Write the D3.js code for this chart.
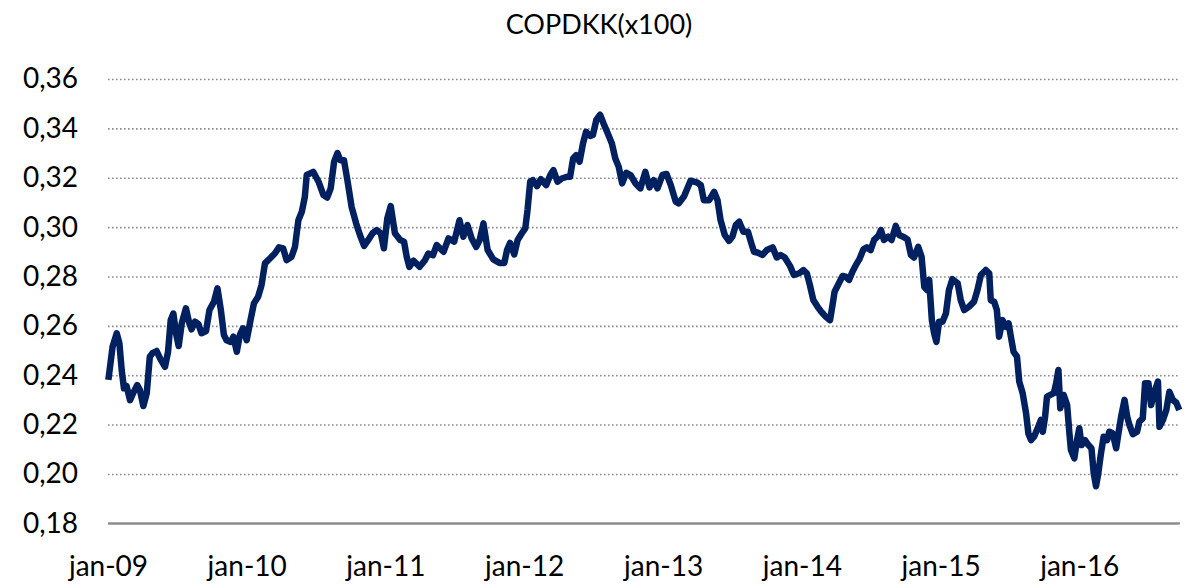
<!DOCTYPE html>
<html>
<head>
<meta charset="utf-8">
<script src="https://cdn.jsdelivr.net/npm/d3@7"></script>
<style>
  body { margin: 0; background: #fff; }
  svg { display: block; font-family: Lato, "Open Sans", sans-serif; }
</style>
</head>
<body>
<svg></svg>
<script>
const width = 1184;
const height = 586;

const title = 'COPDKK(x100)';
const yTicks = [0.18, 0.20, 0.22, 0.24, 0.26, 0.28, 0.30, 0.32, 0.34, 0.36];
const xStart = '2009-01-01';
const xEnd = '2016-09-22';

// weekly-ish readings, kept per year
const dates2009 = ['2009-01-02','2009-01-13','2009-01-24','2009-01-31','2009-02-06','2009-02-12','2009-02-19','2009-02-28','2009-03-08','2009-03-19','2009-03-26','2009-04-04','2009-04-13','2009-04-21','2009-04-28','2009-05-09','2009-05-18','2009-05-31','2009-06-08','2009-06-15','2009-06-22','2009-06-29','2009-07-06','2009-07-14','2009-07-25','2009-08-03','2009-08-09','2009-08-18','2009-08-27','2009-09-04','2009-09-16','2009-09-25','2009-10-07','2009-10-16','2009-10-25','2009-11-02','2009-11-09','2009-11-20','2009-11-27','2009-12-06','2009-12-14','2009-12-22'];
const values2009 = [.2381,.2515,.2570,.2529,.2421,.2347,.2355,.2299,.2327,.2360,.2340,.2275,.2327,.2475,.2489,.2498,.2468,.2434,.2495,.2623,.2650,.2570,.2518,.2610,.2671,.2610,.2586,.2617,.2607,.2570,.2579,.2664,.2698,.2752,.2664,.2563,.2542,.2535,.2556,.2495,.2563,.2590];

const dates2010 = ['2010-01-01','2010-01-11','2010-01-20','2010-01-31','2010-02-09','2010-02-18','2010-03-03','2010-03-16','2010-03-27','2010-04-07','2010-04-16','2010-04-29','2010-05-08','2010-05-17','2010-05-26','2010-06-03','2010-06-08','2010-06-17','2010-06-25','2010-07-09','2010-07-22','2010-08-01','2010-08-10','2010-08-19','2010-08-28','2010-09-04','2010-09-14','2010-09-23','2010-10-04','2010-10-16','2010-10-26','2010-11-06','2010-11-17','2010-11-29','2010-12-09','2010-12-20','2010-12-28'];
const values2010 = [.2542,.2623,.2691,.2718,.2765,.2853,.2873,.2893,.2918,.2914,.2866,.2880,.2920,.3028,.3062,.3123,.3211,.3218,.3224,.3184,.3130,.3120,.3157,.3265,.3300,.3271,.3271,.3190,.3082,.3015,.2968,.2924,.2948,.2977,.2988,.2975,.2914];

const dates2011 = ['2011-01-06','2011-01-15','2011-01-26','2011-02-09','2011-02-19','2011-02-26','2011-03-05','2011-03-16','2011-04-01','2011-04-15','2011-04-24','2011-05-06','2011-05-16','2011-06-03','2011-06-16','2011-07-01','2011-07-15','2011-07-25','2011-08-05','2011-08-16','2011-08-28','2011-09-06','2011-09-16','2011-09-27','2011-10-12','2011-10-28','2011-11-10','2011-11-17','2011-11-25','2011-12-06','2011-12-15','2011-12-26'];
const values2011 = [.3035,.3085,.2975,.2948,.2941,.2880,.2839,.2864,.2839,.2866,.2893,.2886,.2927,.2900,.2954,.2941,.3028,.2961,.3008,.2954,.2920,.2948,.3015,.2907,.2869,.2855,.2855,.2907,.2936,.2889,.2948,.2975];

const dates2012 = ['2012-01-04','2012-01-10','2012-01-17','2012-01-24','2012-02-04','2012-02-14','2012-02-28','2012-03-10','2012-03-18','2012-03-29','2012-04-09','2012-04-23','2012-05-01','2012-05-09','2012-05-17','2012-05-26','2012-06-04','2012-06-12','2012-06-23','2012-06-30','2012-07-09','2012-07-19','2012-07-28','2012-08-08','2012-08-19','2012-08-28','2012-09-06','2012-09-15','2012-09-26','2012-10-07','2012-10-20','2012-11-02','2012-11-15','2012-11-26','2012-12-07','2012-12-17','2012-12-30'];
const values2012 = [.2995,.3069,.3184,.3190,.3166,.3194,.3170,.3211,.3231,.3184,.3197,.3204,.3204,.3278,.3291,.3265,.3339,.3386,.3369,.3373,.3434,.3455,.3420,.3380,.3339,.3278,.3244,.3177,.3220,.3211,.3177,.3157,.3224,.3161,.3190,.3157,.3211];

const dates2013 = ['2013-01-10','2013-01-21','2013-02-03','2013-02-11','2013-02-25','2013-03-14','2013-04-01','2013-04-10','2013-04-18','2013-05-02','2013-05-15','2013-05-24','2013-06-01','2013-06-12','2013-06-23','2013-07-02','2013-07-11','2013-07-20','2013-07-31','2013-08-12','2013-08-21','2013-08-28','2013-09-08','2013-09-19','2013-10-01','2013-10-16','2013-10-27','2013-11-06','2013-11-17','2013-12-01','2013-12-11','2013-12-25'];
const values2013 = [.3215,.3170,.3103,.3096,.3125,.3188,.3180,.3170,.3109,.3109,.3143,.3109,.3028,.2968,.2944,.2961,.3008,.3022,.2981,.2981,.2934,.2900,.2896,.2887,.2907,.2918,.2877,.2887,.2877,.2842,.2806,.2813];

const dates2014 = ['2014-01-05','2014-01-14','2014-01-22','2014-01-31','2014-02-11','2014-02-21','2014-03-05','2014-03-16','2014-03-22','2014-03-28','2014-04-06','2014-04-18','2014-04-26','2014-05-05','2014-05-14','2014-05-23','2014-06-01','2014-06-12','2014-06-21','2014-07-01','2014-07-10','2014-07-21','2014-07-28','2014-08-05','2014-08-16','2014-08-25','2014-09-05','2014-09-14','2014-09-27','2014-10-06','2014-10-15','2014-10-23','2014-11-03','2014-11-12','2014-11-19','2014-11-26','2014-12-02','2014-12-09','2014-12-15','2014-12-21','2014-12-28'];
const values2014 = [.2826,.2813,.2765,.2705,.2678,.2657,.2637,.2623,.2678,.2738,.2765,.2802,.2799,.2786,.2819,.2846,.2869,.2910,.2918,.2907,.2948,.2964,.2988,.2948,.2961,.2948,.3005,.2968,.2959,.2950,.2887,.2877,.2920,.2880,.2758,.2745,.2786,.2623,.2569,.2535,.2617];

const dates2015 = ['2015-01-06','2015-01-15','2015-01-23','2015-02-01','2015-02-15','2015-02-23','2015-03-04','2015-03-17','2015-03-30','2015-04-08','2015-04-17','2015-04-30','2015-05-09','2015-05-13','2015-05-22','2015-05-29','2015-06-04','2015-06-13','2015-06-22','2015-06-29','2015-07-05','2015-07-12','2015-07-21','2015-07-27','2015-08-05','2015-08-14','2015-08-20','2015-08-27','2015-09-04','2015-09-15','2015-09-22','2015-09-27','2015-10-03','2015-10-08','2015-10-17','2015-10-26','2015-11-01','2015-11-07','2015-11-12','2015-11-21','2015-11-30','2015-12-06','2015-12-10','2015-12-19','2015-12-26'];
const values2015 = [.2617,.2650,.2745,.2789,.2772,.2704,.2664,.2678,.2698,.2745,.2806,.2826,.2813,.2704,.2698,.2664,.2556,.2623,.2596,.2610,.2556,.2495,.2475,.2374,.2327,.2245,.2164,.2137,.2151,.2191,.2219,.2171,.2232,.2313,.2320,.2327,.2367,.2421,.2266,.2320,.2279,.2164,.2097,.2063,.2137];

const dates2016 = ['2016-01-01','2016-01-07','2016-01-16','2016-01-25','2016-02-02','2016-02-08','2016-02-14','2016-02-20','2016-02-27','2016-03-05','2016-03-14','2016-03-20','2016-03-29','2016-04-07','2016-04-13','2016-04-20','2016-04-29','2016-05-06','2016-05-12','2016-05-21','2016-06-01','2016-06-07','2016-06-16','2016-06-22','2016-07-01','2016-07-08','2016-07-17','2016-07-26','2016-07-30','2016-08-08','2016-08-17','2016-08-25','2016-09-03','2016-09-12','2016-09-20'];
const values2016 = [.2185,.2117,.2137,.2117,.2104,.2002,.1950,.2002,.2083,.2151,.2137,.2171,.2164,.2104,.2164,.2232,.2300,.2232,.2198,.2161,.2171,.2212,.2225,.2367,.2367,.2279,.2333,.2374,.2191,.2218,.2259,.2333,.2300,.2289,.2259];

const parse = d3.timeParse('%Y-%m-%d');
const dates = [].concat(dates2009, dates2010, dates2011, dates2012, dates2013, dates2014, dates2015, dates2016);
const values = [].concat(values2009, values2010, values2011, values2012, values2013, values2014, values2015, values2016);
const data = dates.map((d, i) => ({ date: parse(d), value: values[i] }));

const svg = d3.select('svg')
  .attr('width', width)
  .attr('height', height);

const x = d3.scaleTime()
  .domain([parse(xStart), parse(xEnd)])
  .range([108, 1180]);

const y = d3.scaleLinear()
  .domain([0.18, 0.36])
  .range([523.3, 79]);

const fmt = d3.formatLocale({ decimal: ',', thousands: '.', grouping: [3], currency: ['', ' kr'] }).format('.2f');

// title
svg.append('text')
  .attr('x', 599)
  .attr('y', 34)
  .attr('text-anchor', 'middle')
  .style('font-size', '27px')
  .attr('fill', '#000')
  .text(title);

// dotted gridlines + labels
const yAxis = svg.append('g')
  .attr('transform', 'translate(108,0)')
  .call(d3.axisLeft(y)
    .tickValues(yTicks)
    .tickFormat(fmt)
    .tickSize(-1070)
    .tickPadding(30));

yAxis.select('.domain').remove();
yAxis.selectAll('.tick line')
  .attr('stroke', '#8c8c8c')
  .attr('stroke-width', 1.6)
  .attr('stroke-dasharray', d => d === 0.18 ? null : '1.6,2.4');
yAxis.selectAll('.tick text')
  .attr('fill', '#000')
  .style('font-size', '28px')
  .style('font-family', 'Lato, sans-serif');

// solid base line
svg.append('line')
  .attr('x1', 108)
  .attr('x2', 1180)
  .attr('y1', y(0.18))
  .attr('y2', y(0.18))
  .attr('stroke', '#8c8c8c')
  .attr('stroke-width', 2.2);

const xAxis = svg.append('g')
  .attr('transform', `translate(0,${y(0.18)})`)
  .call(d3.axisBottom(x)
    .ticks(d3.timeYear.every(1))
    .tickFormat(d => d3.timeFormat('%b-%y')(d).toLowerCase())
    .tickSize(0)
    .tickPadding(33));

xAxis.select('.domain').remove();
xAxis.selectAll('.tick text')
  .attr('fill', '#000')
  .style('font-size', '28px')
  .style('font-family', 'Lato, sans-serif');

const line = d3.line()
  .x(d => x(d.date))
  .y(d => y(d.value));

svg.append('path')
  .datum(data)
  .attr('d', line)
  .attr('fill', 'none')
  .attr('stroke', '#002060')
  .attr('stroke-width', 6.5)
  .attr('stroke-linejoin', 'round');
</script>
</body>
</html>
